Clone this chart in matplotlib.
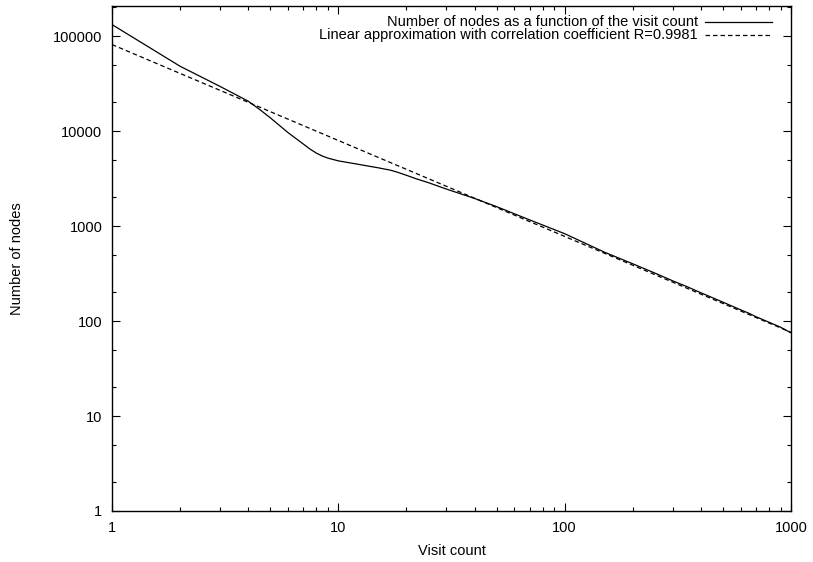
import matplotlib
matplotlib.use("Agg")
import matplotlib.pyplot as plt
from matplotlib.ticker import LogLocator, FixedLocator, NullFormatter
import numpy as np

plt.rcParams['font.family'] = ['Liberation Sans', 'DejaVu Sans']

# visit count vs number of nodes
visits = [1, 2, 3, 4, 4.5, 5, 6, 7, 7.5, 8, 8.5, 9, 10, 12, 13, 15, 17, 18, 20,
          22, 25, 30, 40, 50, 70, 100, 150, 200, 250, 300, 350, 400, 450, 500,
          600, 650, 700, 800, 900, 1000]
nodes = [132000, 48000, 29500, 20600, 16800, 13800, 9600, 7300, 6450, 5850, 5450,
         5180, 4850, 4500, 4350, 4100, 3870, 3720, 3420, 3150, 2860, 2450,
         1950, 1600, 1160, 830, 530, 400, 320, 265, 228, 198, 176, 158, 131, 121,
         111, 97, 86, 75]

# linear (log-log) approximation, end points
fit_x = [1, 1000]
fit_y = [81300, 76]

label_data = "Number of nodes as a function of the visit count"
label_fit = "Linear approximation with correlation coefficient R=0.9981"

fig = plt.figure(figsize=(8.13, 5.62), dpi=100)
ax = fig.add_axes([112/813, 1 - 511/562, 679/813, 505/562])

ax.plot(visits, nodes, color='black', lw=0.9)
ax.plot(fit_x, fit_y, color='black', lw=0.9, linestyle=(0, (3.6, 2.4)))

ax.set_xscale('log')
ax.set_yscale('log')
ax.set_xlim(1, 1000)
ax.set_ylim(1, 2.07e5)

ax.xaxis.set_major_locator(FixedLocator([1, 10, 100, 1000]))
ax.xaxis.set_minor_locator(LogLocator(base=10, subs=np.arange(2, 10)))
ax.yaxis.set_major_locator(FixedLocator([1, 10, 100, 1000, 10000, 100000]))
ax.yaxis.set_minor_locator(LogLocator(base=10, subs=[2, 5]))
ax.xaxis.set_minor_formatter(NullFormatter())
ax.yaxis.set_minor_formatter(NullFormatter())
ax.set_xticklabels(['1', '10', '100', '1000'])
ax.set_yticklabels(['1', '10', '100', '1000', '10000', '100000'])

ax.tick_params(which='both', direction='in', top=True, right=True,
               labelsize=10.5, width=0.8)
ax.tick_params(which='major', length=5.5, pad=7)
ax.tick_params(which='minor', length=3)
for s in ax.spines.values():
    s.set_linewidth(1.0)

ax.set_xlabel("Visit count", fontsize=10.5, labelpad=7)
ax.set_ylabel("Number of nodes", fontsize=10.5, labelpad=21)

# gnuplot style key: text right aligned, sample to its right
for i, (lab, ls) in enumerate([(label_data, '-'), (label_fit, (0, (3.6, 2.4)))]):
    yk = 0.969 - i * 0.0265
    ax.text(0.863, yk, lab, transform=ax.transAxes, ha='right', va='center',
            fontsize=10.5)
    ax.plot([0.873, 0.972], [yk, yk], transform=ax.transAxes, color='black',
            lw=0.9, linestyle=ls)

fig.savefig("out.png", dpi=100)
